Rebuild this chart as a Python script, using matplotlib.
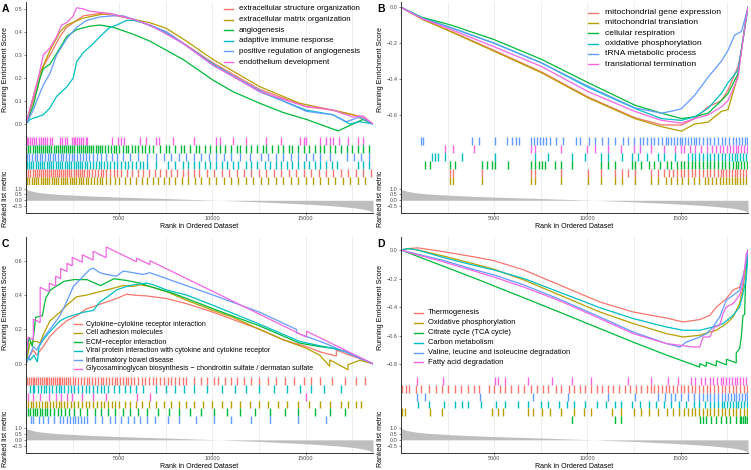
import matplotlib
matplotlib.use("Agg")
import matplotlib.pyplot as plt
from matplotlib.lines import Line2D

plt.rcParams['font.family'] = ['Liberation Sans', 'DejaVu Sans']

W, H = 751, 470
N_GENES = 18620
COLORS = ['#F8766D', '#B79F00', '#00BA38', '#00BFC4', '#619CFF', '#F564E3']

# ---------------- ranked list metric (shared) ----------------
metric_rank = [0, 100, 300, 600, 1000, 1500, 2000, 3000, 4000, 5000, 6000, 7500, 9000, 10000,
               11000, 12500, 14000, 15200, 16000, 16700, 17500, 18000, 18300, 18500, 18620]
metric_value = [0.95, 0.88, 0.78, 0.68, 0.60, 0.53, 0.48, 0.40, 0.33, 0.27, 0.22, 0.15, 0.07, 0.02,
                -0.04, -0.13, -0.24, -0.34, -0.42, -0.50, -0.62, -0.72, -0.82, -0.92, -1.05]

# ---------------- Panel A ----------------
A_labels = ['extracellular structure organization', 'extracellular matrix organization',
            'angiogenesis', 'adaptive immune response',
            'positive regulation of angiogenesis', 'endothelium development']
A1_x = [0, 393, 929, 1287, 1823, 2180, 3074, 3967, 4861, 5754, 7541, 10043, 12545, 15046, 16476, 17548, 18084, 18620]
A1_y = [0, 0.10, 0.25, 0.30, 0.38, 0.42, 0.47, 0.48, 0.47, 0.455, 0.40, 0.265, 0.15, 0.075, 0.06, 0.04, 0.03, 0]
A2_x = [0, 393, 750, 1287, 1823, 2180, 3074, 3967, 4503, 5754, 6648, 7541, 8613, 10043, 12545, 14690, 16476, 17548, 18620]
A2_y = [0, 0.12, 0.22, 0.32, 0.40, 0.43, 0.46, 0.475, 0.48, 0.455, 0.44, 0.415, 0.36, 0.28, 0.162, 0.09, 0.06, 0.04, 0]
A3_x = [0, 393, 750, 929, 1287, 1823, 2180, 2716, 3431, 3967, 4682, 5754, 6648, 7541, 8435, 10043, 11115, 12545,
        13796, 15046, 16744, 17548, 18084, 18620]
A3_y = [0, 0.08, 0.20, 0.24, 0.26, 0.33, 0.38, 0.41, 0.425, 0.43, 0.42, 0.39, 0.36, 0.32, 0.28, 0.19, 0.14, 0.09,
        0.05, 0.02, -0.03, 0.0, 0.02, 0]
A4_x = [0, 214, 929, 1287, 1644, 2180, 2538, 2716, 3074, 3610, 3967, 4503, 4861, 5397, 5754, 6290, 7184, 8435,
        10043, 12545, 13796, 15046, 16476, 17370, 17905, 18620]
A4_y = [0, 0.02, 0.04, 0.07, 0.12, 0.16, 0.20, 0.27, 0.31, 0.35, 0.38, 0.42, 0.43, 0.45, 0.45, 0.44, 0.41, 0.35,
        0.26, 0.14, 0.10, 0.06, 0.04, 0.0, 0.01, 0]
A5_x = [0, 393, 572, 929, 1287, 1644, 2180, 2716, 3252, 3967, 4682, 5218, 5754, 6648, 7541, 8435, 10043, 12545,
        15046, 16476, 17191, 17905, 18620]
A5_y = [0, 0.06, 0.10, 0.17, 0.22, 0.30, 0.37, 0.42, 0.45, 0.465, 0.47, 0.47, 0.455, 0.43, 0.40, 0.35, 0.255, 0.145,
        0.055, 0.04, 0.01, 0.03, 0]
A6_x = [0, 393, 661, 929, 1287, 1644, 1912, 2180, 2538, 2716, 3074, 3431, 3967, 4503, 5039, 5754, 6648, 7541, 8435,
        10043, 12545, 15046, 15761, 16476, 17548, 18084, 18620]
A6_y = [0, 0.12, 0.20, 0.30, 0.33, 0.38, 0.43, 0.44, 0.47, 0.505, 0.50, 0.49, 0.485, 0.48, 0.47, 0.455, 0.43, 0.39, 0.35,
        0.255, 0.14, 0.075, 0.07, 0.06, 0.03, 0.035, 0]
A1_hits = [20, 130, 240, 350, 460, 570, 680, 790, 900, 1010, 1120, 1230, 1340, 1450, 1560, 1670, 1780, 1890, 2000, 2110,
           2220, 2330, 2440, 2550, 2660, 2770, 2880, 2990, 3100, 3250, 3400, 3550, 3700, 3850, 4000, 4150, 4300, 4500,
           4700, 4900, 5100, 5400, 5700, 6000, 6300, 6600, 6900, 7200, 7500, 7800, 8100, 8400, 8700, 9000, 9300, 9700,
           10100, 10500, 10900, 11300, 11700, 12100, 12500, 12900, 13300, 13700, 14100, 14500, 14900, 15300, 15700,
           16100, 16500, 16900, 17300, 17700, 18100, 18500]
A2_hits = [60, 180, 300, 420, 540, 660, 780, 900, 1020, 1140, 1260, 1380, 1500, 1620, 1740, 1860, 1980, 2100, 2220, 2340,
           2460, 2580, 2700, 2820, 2940, 3060, 3200, 3350, 3500, 3650, 3800, 3950, 4100, 4300, 4500, 4750, 5000, 5300,
           5600, 5900, 6200, 6500, 6800, 7100, 7400, 7700, 8000, 8350, 8700, 9050, 9400, 9800, 10200, 10600, 11000,
           11400, 11800, 12200, 12600, 13000, 13400, 13800, 14200, 14600, 15000, 15400, 15800, 16200, 16600, 17000,
           17400, 17800, 18200]
A3_hits = [20, 130, 240, 350, 470, 580, 690, 800, 910, 1030, 1140, 1250, 1360, 1480, 1590, 1700, 1810, 1930, 2040, 2150,
           2260, 2380, 2490, 2600, 2710, 2830, 2940, 3050, 3160, 3280, 3390, 3500, 3610, 3730, 3840, 3950, 4100, 4250,
           4400, 4550, 4700, 4850, 5000, 5200, 5350, 5500, 5700, 5850, 6000, 6200, 6400, 6600, 6800, 7200, 7500, 7700,
           8000, 8300, 8500, 8800, 9100, 9300, 9600, 9900, 10200, 10400, 10700, 11000, 11300, 11500, 11800, 12100,
           12400, 12700, 12900, 13200, 13500, 13800, 14100, 14300, 14600, 14900, 15200, 15500, 15800, 16000, 16300,
           16600, 16900, 17200, 17500, 17800, 18100, 18400]
A4_hits = [30, 150, 270, 390, 510, 630, 750, 870, 990, 1110, 1230, 1350, 1470, 1590, 1710, 1830, 1950, 2070, 2190, 2310,
           2430, 2550, 2670, 2790, 2910, 3030, 3150, 3300, 3450, 3600, 3750, 3900, 4050, 4200, 4350, 4500, 4700, 4900,
           5100, 5300, 5500, 5700, 5900, 6100, 6300, 6500, 7000, 7600, 8000, 8400, 8700, 9000, 9300, 9600, 9900,
           10200, 10500, 10800, 11100, 11400, 11800, 12100, 12400, 12800, 13100, 13400, 13700, 14000, 14300, 14600,
           14900, 15200, 15500, 15800, 16100, 16400, 16700, 17800, 18100, 18400]
A5_hits = [40, 180, 320, 460, 600, 740, 880, 1020, 1160, 1300, 1440, 1580, 1720, 1860, 2000, 2150, 2300, 2450, 2600,
           2750, 2900, 3050, 3200, 3400, 3600, 3800, 4000, 4300, 4600, 4900, 5200, 5600, 6000, 6500, 7000, 7400, 7800,
           8200, 8600, 9000, 9400, 9800, 10200, 10600, 11000, 11500, 12000, 12600, 13000, 13400, 13800, 14200, 14600,
           15000, 15400, 15800, 16300, 17200, 17600, 18000, 18400]
A6_hits = [30, 120, 230, 330, 450, 560, 680, 800, 900, 1020, 1150, 1280, 1400, 1850, 1950, 2080, 2180, 2450, 2550, 2650,
           2750, 2850, 2950, 3050, 3200, 3300, 4600, 4950, 5100, 5250, 6100, 6450, 7000, 7150, 7900, 9000, 10200,
           10400, 11100, 11800, 12900, 13700, 14700, 14900, 15050, 15800, 16100, 16300, 16500, 16800, 17300, 17800, 18100]
A_rug_order = [6, 3, 5, 4, 1, 2]

# ---------------- Panel B ----------------
B_labels = ['mitochondrial gene expression', 'mitochondrial translation', 'cellular respiration',
            'oxidative phosphorylation', 'tRNA metabolic process', 'translational termination']
B_x = [0, 1108, 2716, 5000, 7541, 10043, 12545, 13976, 15046, 15761, 16476, 17191, 17548, 18084, 18263, 18531, 18620]
B1_y = [0, -0.065, -0.135, -0.24, -0.36, -0.50, -0.615, -0.655, -0.656, -0.62, -0.555, -0.52, -0.46, -0.33, -0.24, -0.05, 0]
B2_y = [0, -0.065, -0.138, -0.245, -0.365, -0.505, -0.62, -0.665, -0.69, -0.65, -0.64, -0.58, -0.57, -0.38, -0.24, -0.05, 0]
B3_y = [0, -0.055, -0.10, -0.18, -0.29, -0.42, -0.545, -0.59, -0.62, -0.61, -0.59, -0.52, -0.48, -0.37, -0.24, -0.06, 0]
B4_y = [0, -0.058, -0.115, -0.20, -0.31, -0.446, -0.563, -0.62, -0.63, -0.61, -0.563, -0.48, -0.42, -0.35, -0.24, -0.05, 0]
B5_x = [0, 1108, 2716, 5000, 7541, 10043, 12545, 13976, 14690, 15046, 15761, 16476, 17191, 17548, 17905, 18263, 18440, 18620]
B5_y = [0, -0.06, -0.115, -0.20, -0.31, -0.44, -0.56, -0.59, -0.575, -0.565, -0.49, -0.39, -0.30, -0.24, -0.155, -0.135, -0.07, 0]
B6_y = [0, -0.062, -0.125, -0.22, -0.33, -0.47, -0.58, -0.63, -0.645, -0.62, -0.60, -0.555, -0.52, -0.39, -0.25, -0.05, 0]
B1_hits = [2630, 2800, 4320, 7000, 7200, 8600, 10050, 10750, 11500, 11850, 12200, 12550, 13400, 13800, 14100, 14400,
           14600, 14800, 15000, 15200, 15400, 15600, 15800, 16000, 16200, 16400, 16600, 16800, 17000, 17150, 17300,
           17450, 17600, 17750, 17900, 18050, 18200, 18350, 18500]
B2_hits = [2630, 2800, 4320, 7000, 7200, 8600, 10050, 10750, 11500, 11850, 12550, 13400, 13800, 14200, 14500, 14800,
           15100, 15400, 15700, 16000, 16300, 16500, 16700, 16900, 17100, 17300, 17450, 17600, 17750, 17900, 18050,
           18200, 18350, 18500]
B3_hits = [1290, 1550, 2630, 2900, 4320, 4600, 4900, 5050, 5750, 7000, 7200, 7400, 7550, 7750, 8250, 8600, 9150, 10750,
           11100, 11500, 12400, 12550, 12900, 13300, 13600, 13900, 14300, 14500, 14800, 15000, 15200, 15400, 15600,
           15800, 16000, 16200, 16400, 16600, 16800, 17000, 17200, 17400, 17600, 17800, 17950, 18100, 18250, 18400, 18550]
B4_hits = [1650, 1800, 2000, 2350, 3250, 5050, 7200, 7900, 9150, 9900, 10750, 11100, 11850, 12400, 12700, 13200, 13800,
           14100, 14700, 15400, 15600, 15800, 16000, 16200, 16400, 16600, 16800, 17000, 17200, 17400, 17600, 17750,
           17900, 18050, 18200, 18350, 18500]
B5_hits = [1100, 1200, 3800, 4200, 5050, 5700, 5950, 6150, 6350, 7000, 7150, 7300, 7450, 7600, 7800, 8000, 8300, 8700,
           9400, 9600, 10100, 10400, 10800, 11100, 11500, 11900, 12200, 12500, 12800, 13000, 13200, 13400, 13600, 13800,
           14000, 14200, 14350, 14500, 14650, 14800, 14950, 15100, 15250, 15400, 15550, 15700, 15850, 16000, 16200,
           16400, 16600, 16800, 17000, 17200, 17400, 17600, 17800, 18000, 18150, 18300, 18450, 18580]
B6_hits = [2350, 2800, 3900, 7000, 7200, 8600, 10000, 10400, 11100, 11800, 12500, 12800, 13400, 14100, 14700, 15000,
           15200, 15500, 15800, 16100, 16400, 16700, 16900, 17100, 17300, 17500, 17650, 17800, 17950, 18100, 18250,
           18400, 18550]
B_rug_order = [5, 6, 4, 3, 1, 2]

# ---------------- Panel C ----------------
C_labels = ['Cytokine\u2212cytokine receptor interaction', 'Cell adhesion molecules', 'ECM\u2212receptor interaction',
            'Viral protein interaction with cytokine and cytokine receptor', 'Inflammatory bowel disease',
            'Glycosaminoglycan biosynthesis \u2212 chondroitin sulfate / dermatan sulfate']
C1_x = [0, 214, 393, 572, 929, 1287, 1644, 2180, 2716, 3252, 3788, 4325, 4861, 5397, 5754, 6469, 7541, 8613, 10043,
        12545, 13796, 15046, 15761, 16476, 16655, 16655, 17370, 17905, 18620]
C1_y = [0, 0.05, 0.08, 0.05, 0.10, 0.16, 0.20, 0.25, 0.28, 0.32, 0.34, 0.36, 0.38, 0.405, 0.40, 0.395, 0.38, 0.35, 0.30,
        0.20, 0.14, 0.10, 0.07, 0.05, 0.045, 0.08, 0.05, 0.03, 0]
C2_x = [0, 214, 393, 572, 750, 929, 1287, 1823, 2180, 2716, 3252, 3967, 4682, 5218, 5754, 6111, 6648, 7541, 8613,
        10043, 11115, 12545, 13796, 15046, 15761, 16297, 16297, 17280, 17280, 17905, 18620]
C2_y = [0, 0.12, 0.13, 0.13, 0.12, 0.17, 0.25, 0.30, 0.34, 0.39, 0.40, 0.42, 0.44, 0.455, 0.45, 0.46, 0.45, 0.42, 0.37,
        0.31, 0.27, 0.20, 0.14, 0.09, 0.05, -0.015, 0.023, -0.035, -0.005, 0.02, 0]
C3_x = [0, 160, 340, 520, 880, 1050, 1320, 1600, 2040, 2580, 3270, 4000, 4720, 5400, 6100, 6650, 7900, 10043, 12545,
        14690, 15761, 16476, 17191, 18620]
C3_y = [0, 0.155, 0.10, 0.27, 0.28, 0.38, 0.43, 0.45, 0.48, 0.49, 0.49, 0.455, 0.495, 0.485, 0.47, 0.45, 0.41, 0.32,
        0.22, 0.12, 0.10, 0.09, 0.07, 0]
C4_x = [0, 125, 214, 430, 610, 700, 929, 1144, 1823, 2180, 3074, 3610, 3967, 4503, 4861, 5397, 5754, 6469, 6827, 7541,
        8613, 10043, 12545, 14690, 15761, 16476, 17191, 18620]
C4_y = [0, 0.04, 0.02, 0.05, 0.01, 0.10, 0.14, 0.17, 0.25, 0.27, 0.30, 0.31, 0.36, 0.40, 0.43, 0.45, 0.46, 0.47, 0.46,
        0.43, 0.40, 0.34, 0.23, 0.13, 0.105, 0.09, 0.07, 0]
C5_x = [0, 214, 393, 572, 929, 1287, 1823, 2180, 2538, 2984, 3431, 3610, 3967, 4325, 4861, 5218, 5754, 6290, 6648,
        10043, 12545, 14511, 14511, 16029, 18620]
C5_y = [0, 0.05, 0.10, 0.08, 0.15, 0.20, 0.28, 0.36, 0.45, 0.50, 0.55, 0.556, 0.53, 0.52, 0.51, 0.54, 0.53, 0.52, 0.53,
        0.40, 0.30, 0.20, 0.18, 0.12, 0]
C6_x = [0, 110, 393, 393, 760, 760, 1250, 1250, 1590, 1590, 1860, 1860, 2200, 2200, 2480, 2480, 3020, 3020, 3600, 3600,
        4300, 4300, 5930, 5930, 6650, 6650, 15050, 15050, 18620]
C6_y = [0, 0.155, 0.14, 0.26, 0.24, 0.445, 0.42, 0.47, 0.452, 0.51, 0.496, 0.555, 0.537, 0.585, 0.57, 0.62, 0.591, 0.635,
        0.604, 0.655, 0.618, 0.68, 0.594, 0.615, 0.577, 0.60, 0.155, 0.19, 0]
C1_hits = [50, 150, 250, 350, 450, 550, 650, 750, 850, 950, 1050, 1150, 1250, 1350, 1450, 1550, 1650, 1750, 1850, 1950,
           2050, 2150, 2250, 2350, 2500, 2650, 2800, 2950, 3100, 3250, 3400, 3550, 3700, 3850, 4000, 4150, 4300, 4450,
           4600, 4750, 4900, 5050, 5200, 5350, 5500, 5650, 5800, 6000, 6200, 6400, 6600, 6800, 7000, 7200, 7400, 7600,
           7800, 8000, 8200, 8400, 8600, 9000, 9400, 9700, 10100, 10300, 10700, 11000, 11300, 11700, 12100, 12500,
           13000, 13400, 13900, 14400, 14900, 15300, 15800, 16400, 17100, 17700, 18200]
C2_hits = [100, 250, 400, 550, 700, 850, 1000, 1150, 1300, 1450, 1600, 1750, 1900, 2050, 2200, 2400, 2600, 2800, 3000,
           3200, 3400, 3600, 3800, 4000, 4200, 4400, 4600, 4800, 5000, 5300, 5600, 5900, 6200, 6600, 7000, 7400, 7800,
           8200, 8600, 9000, 9500, 10000, 10500, 11000, 11500, 12000, 12500, 13000, 13500, 14000, 14600, 15200, 15800,
           16300, 16900, 17300, 17700, 18000]
C3_hits = [100, 200, 350, 500, 600, 750, 850, 1000, 1150, 1300, 1500, 1700, 1900, 2100, 2300, 2600, 2900, 3300, 3700,
           4000, 4400, 4800, 5200, 5600, 6000, 6500, 7100, 7700, 8200, 8800, 9400, 10100, 10800, 11500, 12300, 13100,
           13900, 14600, 15500, 16300, 17100]
C4_hits = [200, 350, 450, 650, 800, 950, 1100, 1250, 1400, 1600, 1750, 1900, 2050, 2250, 2400, 2600, 2800, 3000, 3200,
           3400, 3600, 3800, 4000, 4200, 4400, 4700, 5000, 5300, 5600, 5900, 6300, 7000, 7500, 8000, 8500, 9000, 9700,
           10500, 11200, 11800, 12500, 13300, 14000, 14700, 15300, 16000, 16900]
C5_hits = [250, 400, 700, 900, 1200, 1500, 1800, 2000, 2200, 2350, 2500, 2650, 2800, 2950, 3100, 3300, 3700, 4100, 4500,
           4800, 5100, 5500, 5800, 6100, 6500, 6900, 7600, 8200, 9100, 10100, 11000, 12100, 13100, 14600, 16100]
C6_hits = [110, 393, 760, 1250, 1590, 1860, 2200, 2480, 3020, 3600, 4300, 5930, 6650, 15050]
C_rug_order = [1, 4, 6, 2, 3, 5]

# ---------------- Panel D ----------------
D_labels = ['Thermogenesis', 'Oxidative phosphorylation', 'Citrate cycle (TCA cycle)', 'Carbon metabolism',
            'Valine, leucine and isoleucine degradation', 'Fatty acid degradation']
D_x = [0, 400, 900, 2200, 4000, 5000, 6600, 8600, 10670, 12460, 14240, 15140, 16030, 16570, 16920, 17460, 17820,
       18170, 18350, 18530, 18620]
D1_y = [0, 0.01, 0.015, -0.01, -0.05, -0.075, -0.14, -0.25, -0.364, -0.434, -0.476, -0.504, -0.487, -0.457, -0.40,
        -0.34, -0.28, -0.26, -0.19, -0.08, 0]
D2_y = [0, 0.01, 0.0, -0.04, -0.10, -0.135, -0.21, -0.32, -0.434, -0.515, -0.585, -0.609, -0.597, -0.574, -0.562,
        -0.515, -0.469, -0.375, -0.26, -0.095, 0]
D3_x = [0, 2200, 4000, 6600, 8600, 10670, 12460, 14240, 16030, 16030, 16380, 16380, 16920, 16920, 17460, 17460, 17990,
        17990, 18170, 18260, 18350, 18440, 18480, 18560, 18620]
D3_y = [0, -0.11, -0.20, -0.335, -0.44, -0.55, -0.645, -0.735, -0.82, -0.795, -0.815, -0.785, -0.812, -0.775, -0.805,
        -0.765, -0.79, -0.72, -0.69, -0.61, -0.46, -0.45, -0.26, -0.10, 0]
D4_x = [0, 400, 900, 2200, 4000, 5000, 6600, 8600, 10670, 12460, 14240, 15140, 16030, 16740, 17280, 17820, 18170,
        18350, 18530, 18620]
D4_y = [0, 0.01, 0.0, -0.05, -0.11, -0.14, -0.20, -0.30, -0.404, -0.48, -0.539, -0.562, -0.562, -0.539, -0.515, -0.457,
        -0.40, -0.306, -0.19, 0]
D5_x = [0, 900, 2200, 4000, 5000, 6600, 8600, 10670, 12460, 14240, 14960, 15300, 16030, 16400, 16740, 17100, 17460,
        17820, 18170, 18440, 18620]
D5_y = [0, -0.03, -0.07, -0.14, -0.175, -0.245, -0.35, -0.469, -0.574, -0.655, -0.679, -0.645, -0.609, -0.585, -0.539,
        -0.469, -0.35, -0.317, -0.282, -0.14, 0]
D6_x = [0, 900, 2200, 4000, 5000, 6600, 8600, 10670, 12460, 14240, 14960, 15670, 16030, 16210, 16566, 16830, 17100,
        17280, 17460, 17820, 18170, 18350, 18530, 18620]
D6_y = [0, -0.035, -0.08, -0.15, -0.19, -0.26, -0.36, -0.48, -0.585, -0.655, -0.667, -0.679, -0.679, -0.609, -0.609,
        -0.539, -0.527, -0.445, -0.399, -0.375, -0.317, -0.236, -0.026, 0]
D1_hits = [50, 250, 450, 800, 1100, 1500, 1900, 2200, 2500, 2900, 3200, 3600, 3900, 4200, 4700, 5000, 5300, 5600, 5900,
           6300, 6600, 7000, 7300, 7600, 7900, 8300, 8600, 9000, 9300, 9600, 9900, 10200, 10500, 10800, 11100, 11400,
           11700, 12000, 12300, 12600, 12900, 13200, 13400, 13600, 13800, 14000, 14200, 14400, 14600, 14800, 15000,
           15200, 15400, 15600, 15800, 16000, 16200, 16400, 16600, 16800, 17000, 17200, 17400, 17600, 17800, 18000,
           18200, 18400, 18550]
D2_hits = [60, 200, 1550, 2180, 4900, 5200, 5500, 6800, 7100, 7550, 8000, 8600, 9300, 9800, 10200, 11300, 11800, 12500,
           12900, 13300, 13800, 14300, 14600, 14900, 15200, 15400, 15600, 15800, 16000, 16200, 16400, 16600, 16800,
           17000, 17200, 17400, 17600, 17800, 18000, 18200, 18400, 18550]
D3_hits = [9150, 11470, 11830, 16030, 16210, 16380, 16650, 16920, 17190, 17460, 17640, 17990, 18170, 18260, 18350,
           18440, 18480, 18560]
D4_hits = [930, 1500, 2300, 2900, 3250, 3600, 4300, 5100, 5600, 6300, 6800, 7500, 7900, 8500, 8900, 9300, 9900, 10500,
           11000, 11500, 11800, 12400, 12800, 13300, 13700, 14100, 14500, 14900, 15300, 15700, 16000, 16300, 16600,
           16800, 17000, 17200, 17350, 17500, 17650, 17800, 17950, 18100, 18250, 18400, 18550]
D5_hits = [840, 1300, 4235, 7100, 8970, 11100, 12545, 13800, 14150, 14500, 14700, 15050, 15400, 15700, 16000, 16200,
           16400, 16600, 16800, 17000, 17200, 17400, 17550, 17700, 17850, 18000, 18150, 18300, 18450, 18580]
D6_hits = [840, 2270, 5040, 5200, 5600, 6830, 8080, 9150, 10220, 12190, 13440, 14330, 14870, 15580, 15800, 16100, 16300,
           16600, 16750, 16950, 17150, 17300, 17450, 17600, 17750, 17900, 18050, 18200, 18350, 18500]
D_rug_order = [6, 1, 5, 4, 2, 3]

# ---------------- assemble ----------------
panels = [
    dict(letter='A', labels=A_labels,
         curves=[(A1_x, A1_y), (A2_x, A2_y), (A3_x, A3_y), (A4_x, A4_y), (A5_x, A5_y), (A6_x, A6_y)],
         hits=[A1_hits, A2_hits, A3_hits, A4_hits, A5_hits, A6_hits], order=A_rug_order,
         yticks=[0.0, 0.1, 0.2, 0.3, 0.4, 0.5], ylim=(-0.0565, 0.530),
         box=(26, 373, 2, 137, 185, 213), leg=(224, 233, 239, [9, 19.6, 30.2, 40.8, 51.4, 62.0], 5.7)),
    dict(letter='B', labels=B_labels,
         curves=[(B_x, B1_y), (B_x, B2_y), (B_x, B3_y), (B_x, B4_y), (B5_x, B5_y), (B_x, B6_y)],
         hits=[B1_hits, B2_hits, B3_hits, B4_hits, B5_hits, B6_hits], order=B_rug_order,
         yticks=[0.0, -0.2, -0.4, -0.6], ylim=(-0.7226, 0.0295),
         box=(401, 748, 2, 137, 185, 213), leg=(588, 598, 605, [12.7, 23.0, 33.3, 43.5, 53.7, 64.0], 6.1)),
    dict(letter='C', labels=C_labels,
         curves=[(C1_x, C1_y), (C2_x, C2_y), (C3_x, C3_y), (C4_x, C4_y), (C5_x, C5_y), (C6_x, C6_y)],
         hits=[C1_hits, C2_hits, C3_hits, C4_hits, C5_hits, C6_hits], order=C_rug_order,
         yticks=[0.0, 0.2, 0.4, 0.6], ylim=(-0.077, 0.738),
         box=(26, 373, 237, 377, 424, 453), leg=(74, 82, 86, [324, 333, 342, 351, 360, 369], 5.0)),
    dict(letter='D', labels=D_labels,
         curves=[(D_x, D1_y), (D_x, D2_y), (D3_x, D3_y), (D4_x, D4_y), (D5_x, D5_y), (D6_x, D6_y)],
         hits=[D1_hits, D2_hits, D3_hits, D4_hits, D5_hits, D6_hits], order=D_rug_order,
         yticks=[0.0, -0.2, -0.4, -0.6, -0.8], ylim=(-0.889, 0.091),
         box=(401, 748, 237, 377, 424, 453), leg=(414, 423, 428, [312.7, 322.7, 332.7, 342.7, 352.7, 362.3], 5.4)),
]

fig = plt.figure(figsize=(W / 100, H / 100), dpi=100)

AXC = '#333333'
TICKC = '#4D4D4D'
GRIDC = '#EBEBEB'
MAJOR = [5000, 10000, 15000]
MINOR = [2500, 7500, 12500, 17500]


def fmt(v):
    return f"{v:.1f}".replace('-', '\u2212')


def add_ax(l, r, t, b):
    return fig.add_axes([l / W, 1 - b / H, (r - l) / W, (b - t) / H])


def base(ax):
    ax.set_xlim(0, N_GENES)
    ax.set_xticks(MAJOR)
    ax.set_xticks(MINOR, minor=True)
    ax.grid(True, axis='x', which='both', color=GRIDC, lw=0.6)
    ax.set_axisbelow(True)
    for s in ['top', 'right', 'bottom']:
        ax.spines[s].set_visible(False)
    ax.spines['left'].set_color(AXC)
    ax.spines['left'].set_linewidth(0.7)
    ax.tick_params(axis='x', which='both', length=0, labelbottom=False)
    ax.tick_params(axis='y', length=1.5, width=0.5, color=TICKC, labelsize=4, labelcolor=TICKC, pad=1)
    ax.patch.set_alpha(0)


for p in panels:
    l, r, t, m1, m2, b = p['box']
    es = add_ax(l, r, t, m1)
    base(es)
    es.set_ylim(*p['ylim'])
    es.set_yticks(p['yticks'])
    es.set_yticklabels([fmt(v) for v in p['yticks']])
    for i, (xs, ys) in enumerate(p['curves']):
        es.plot(xs, ys, color=COLORS[i], lw=0.9, solid_joinstyle='miter')

    rug = add_ax(l, r, m1, m2)
    base(rug)
    rug.set_ylim(6, 0)
    rug.set_yticks([])
    for row, idx in enumerate(p['order']):
        rug.vlines(p['hits'][idx - 1], row, row + 1, color=COLORS[idx - 1], lw=1.0)

    met = add_ax(l, r, m2, b)
    base(met)
    met.fill_between(metric_rank, metric_value, 0, color='#BEBEBE', lw=0)
    met.set_ylim(-1.08, 1.30)
    met.set_yticks([1.0, 0.5, 0.0, -0.5])
    met.set_yticklabels([fmt(v) for v in [1.0, 0.5, 0.0, -0.5]])
    met.spines['bottom'].set_visible(True)
    met.spines['bottom'].set_color(AXC)
    met.spines['bottom'].set_linewidth(0.7)
    met.tick_params(axis='x', which='major', length=1.5, width=0.5, color=TICKC, labelbottom=True,
                    labelsize=4, labelcolor=TICKC, pad=1)
    met.set_xticklabels([str(v) for v in MAJOR])

# overlay for text in pixel coordinates
ov = fig.add_axes([0, 0, 1, 1])
ov.set_xlim(0, W)
ov.set_ylim(H, 0)
ov.axis('off')
for p in panels:
    l, r, t, m1, m2, b = p['box']
    ox = l - 26
    ov.text(ox + 2, t + 7, p['letter'], fontsize=7.5, fontweight='bold', ha='left', va='center')
    ov.text(ox + 6, (t + m1) / 2, 'Running Enrichment Score', rotation=90, fontsize=5, ha='center', va='center')
    ov.text(ox + 6, (m2 + b) / 2, 'Ranked list metric', rotation=90, fontsize=5, ha='center', va='center')
    ov.text((l + r) / 2, b + 13, 'Rank in Ordered Dataset', fontsize=5, ha='center', va='center')
    k0, k1, tx, ys, fs = p['leg']
    for i, (lab, yy) in enumerate(zip(p['labels'], ys)):
        ov.add_line(Line2D([k0, k1], [yy, yy], color=COLORS[i], lw=1.0))
        ov.text(tx, yy, lab, fontsize=fs, ha='left', va='center')

fig.savefig('out.png', dpi=100)
